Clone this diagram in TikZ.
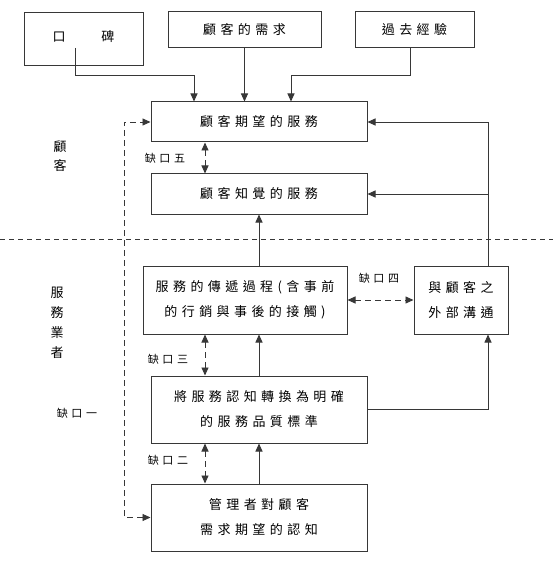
\documentclass[tikz,border=0pt]{standalone}
\usepackage{fontspec}
\setmainfont{Noto Sans CJK TC}
\newfontfamily\cjk[LetterSpace=34]{Noto Sans CJK TC}
\usetikzlibrary{arrows.meta}
\definecolor{ln}{RGB}{55,55,55}
\tikzset{
  box/.style={draw=ln, line width=1pt, inner sep=0pt, align=center,
    font=\cjk\fontsize{13}{25}\selectfont},
  arr/.style={draw=ln, line width=0.9pt, -{Triangle[length=8pt,width=7pt]}},
  darr/.style={draw=ln, line width=0.9pt, dash pattern=on 6pt off 4pt,
    {Triangle[length=8pt,width=7pt]}-{Triangle[length=8pt,width=7pt]}},
  gaplbl/.style={inner sep=0pt, font=\cjk\fontsize{11}{13}\selectfont},
  sidelbl/.style={inner sep=0pt, align=center},
}
\begin{document}
\begin{tikzpicture}[x=1pt,y=-1pt]
\useasboundingbox (0,0) rectangle (553,577);
% boxes
\node[box, minimum width=119pt, minimum height=53pt] (wom) at (83.5,39.5) {\raisebox{7pt}{口\hspace{36pt}碑}};
\node[box, minimum width=153pt, minimum height=36pt] (need) at (244.5,30) {顧客的需求};
\node[box, minimum width=119pt, minimum height=36pt] (past) at (414.5,30) {過去經驗};
\node[box, minimum width=216pt, minimum height=40pt] (exp) at (259,122) {顧客期望的服務};
\node[box, minimum width=216pt, minimum height=40pt] (perc) at (259,194) {顧客知覺的服務};
\node[box, minimum width=204pt, minimum height=68pt] (deliv) at (245,300) {服務的傳遞過程(含事前\\的行銷與事後的接觸)};
\node[box, minimum width=94pt, minimum height=68pt] (ext) at (461,300) {與顧客之\\外部溝通};
\node[box, minimum width=216pt, minimum height=67pt] (spec) at (259,409.5) {將服務認知轉換為明確\\的服務品質標準};
\node[box, minimum width=216pt, minimum height=67pt] (mgmt) at (259,517.5) {管理者對顧客\\需求期望的認知};
% separator
\coordinate (sepL) at (0,239);
\coordinate (sepR) at (553,239);
\draw[ln, line width=0.9pt, dash pattern=on 5pt off 4pt] (sepL) -- (sepR);
% inputs to expected service
\coordinate (womstart) at (75,48);
\draw[arr] (womstart) -- ++(0,27) -| ([xshift=-65pt]exp.north);
\draw[arr] (need.south) -- (need.south |- exp.north);
\draw[arr] ([xshift=-4.5pt]past.south) -- ++(0,27) -| ([xshift=32pt]exp.north);
% external communication feedback
\coordinate (extup) at ([xshift=27pt]ext.north);
\draw[arr] (extup) |- (exp.east);
\coordinate (jperc) at (extup |- perc.east);
\draw[arr] (jperc) -- (perc.east);
\draw[arr] (spec.east) -| ([xshift=27pt]ext.south);
% vertical flow
\draw[arr] (perc.south |- deliv.north) -- (perc.south);
\draw[arr] (spec.north) -- (spec.north |- deliv.south);
\draw[arr] (mgmt.north) -- (spec.south);
% gaps
\draw[darr] ([xshift=-54pt]exp.south) -- ([xshift=-54pt]perc.north);
\coordinate (g3a) at ([xshift=-54pt]spec.north);
\draw[darr] (g3a |- deliv.south) -- (g3a);
\draw[darr] ([xshift=-54pt]spec.south) -- ([xshift=-54pt]mgmt.north);
\draw[darr] (deliv.east) -- (ext.west);
\coordinate (g1corner) at (124,517.5);
\draw[darr] (mgmt.west) -- (g1corner) |- (exp.west);
% labels
\node[gaplbl] (gap5) at (165,158) {缺口五};
\node[gaplbl] (gap4) at (379,278) {缺口四};
\node[gaplbl] (gap3) at (168,359) {缺口三};
\node[gaplbl] (gap2) at (168,460) {缺口二};
\node[gaplbl] (gap1) at (77,413) {缺口一};
\node[sidelbl, font=\fontsize{13}{19}\selectfont] (cust) at (60,156) {顧\\客};
\node[sidelbl, font=\fontsize{13}{20}\selectfont] (firm) at (57,323) {服\\務\\業\\者};
\end{tikzpicture}
\end{document}
